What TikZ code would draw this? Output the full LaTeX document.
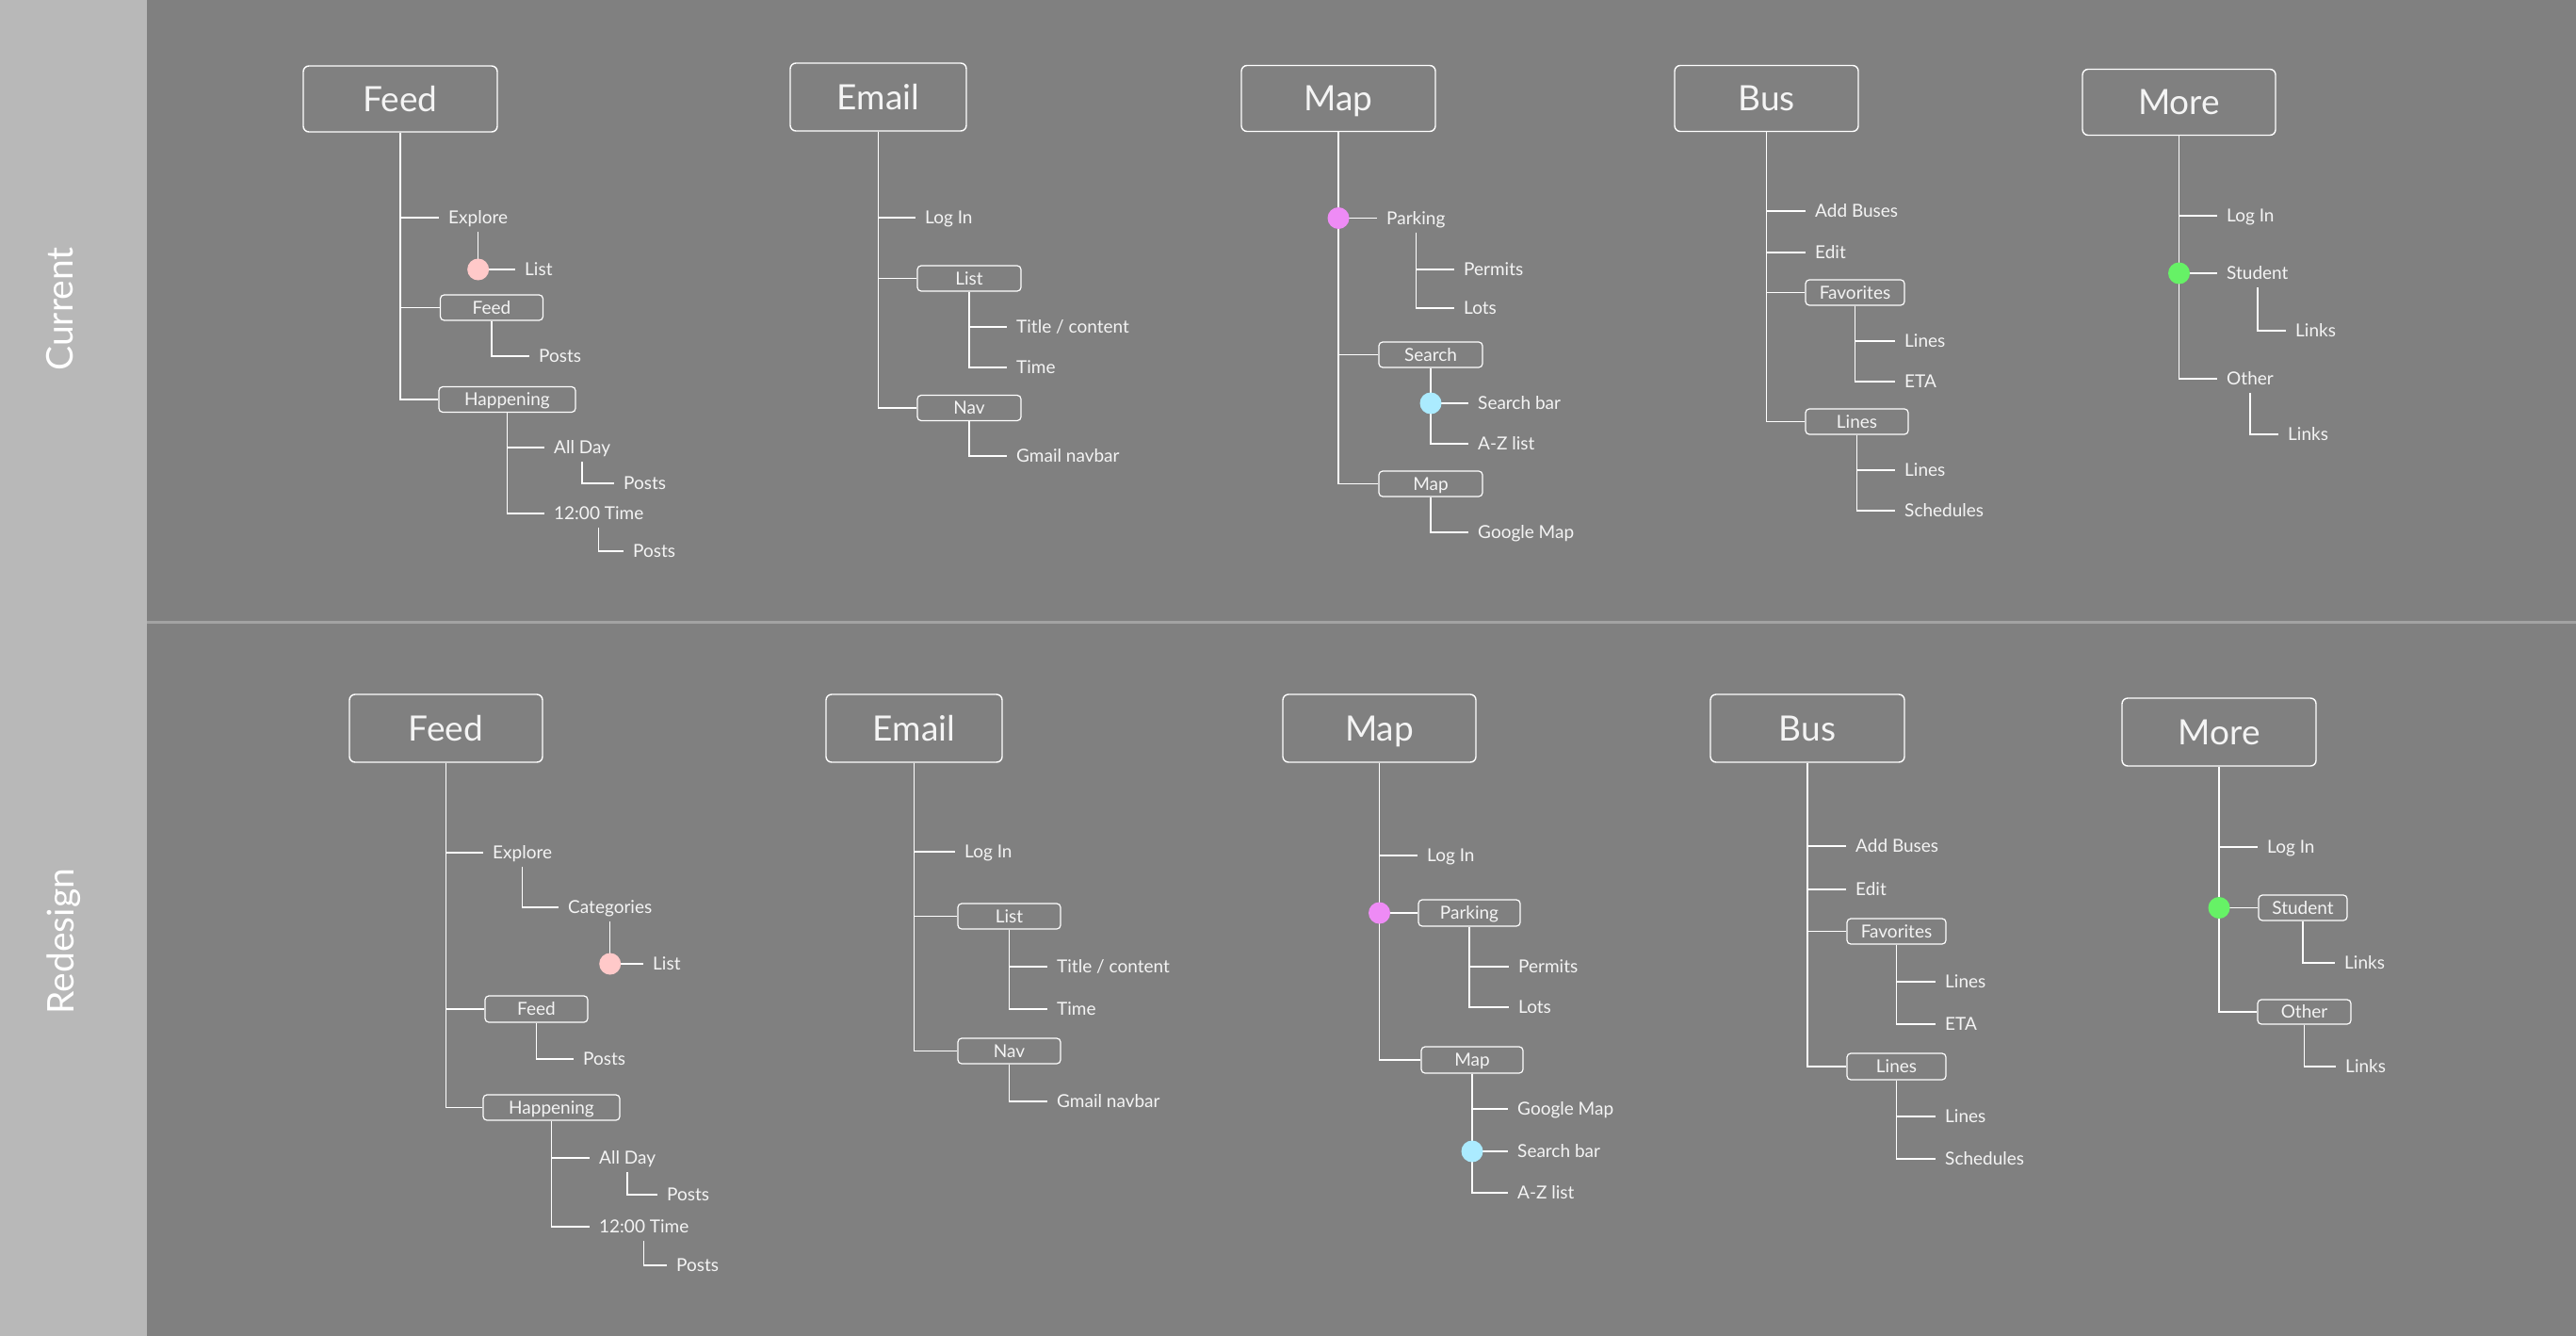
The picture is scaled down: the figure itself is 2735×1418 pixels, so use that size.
\documentclass[tikz,border=0pt]{standalone}
\usepackage{fontspec}
\setmainfont{Lato}
\definecolor{mainc}{HTML}{808080}
\definecolor{bandc}{HTML}{B8B8B8}
\definecolor{sepc}{HTML}{A3A3A3}
\definecolor{txtc}{HTML}{F4F4F4}
\definecolor{pinkc}{HTML}{FFC9C9}
\definecolor{magc}{HTML}{EE8BF5}
\definecolor{bluec}{HTML}{ABEBFF}
\definecolor{greenc}{HTML}{66F266}
\pgfdeclarelayer{bg}
\pgfdeclarelayer{wires}
\pgfsetlayers{bg,wires,main}
\begin{document}
\begin{tikzpicture}[x=1pt,y=-1pt,
  lbl/.style={font=\fontsize{19}{22}\selectfont, text=txtc, text height=13.6pt, text depth=0pt, inner xsep=10pt, inner ysep=8pt, anchor=west},
  sbox/.style={draw=white, line width=1.2pt, rounded corners=4pt, minimum height=27pt, inner sep=0pt, font=\fontsize{19}{22}\selectfont, text=txtc, text height=13.6pt, text depth=0pt},
  bbox/.style={draw=white, line width=1.4pt, rounded corners=6pt, minimum height=70pt, inner sep=0pt, font=\fontsize{37}{40}\selectfont, text=txtc, text height=26.5pt, text depth=0pt},
  dot/.style={circle, inner sep=0pt, minimum size=23pt},
  conn/.style={draw=white, line width=1.4pt},
  side/.style={font=\fontsize{39}{44}\selectfont, text=white, rotate=90}]
\useasboundingbox (0,0) rectangle (2735,1418);
\begin{pgfonlayer}{bg}
  \fill[bandc] (0,0) rectangle (156,1418);
  \fill[mainc] (156,0) rectangle (2735,1418);
  \draw[sepc, line width=3pt] (156,660) -- (2735,660);
\end{pgfonlayer}

\node[side] (cur) at (64,328) {Current};
\node[side] (red) at (68,999) {Redesign};

% ===== TOP: Feed =====
\node[bbox, minimum width=206pt] (T1) at (425,105) {Feed};
\node[lbl] (explore1) at (466,231) {Explore};
\node[lbl] (list1) at (547,286) {List};
\node[sbox, minimum width=109pt] (feedsub1) at (522,326.5) {Feed};
\node[lbl] (posts1a) at (562,378) {Posts};
\node[sbox, minimum width=145pt] (happ1) at (538.5,424) {Happening};
\node[lbl] (allday1) at (578,475) {All Day};
\node[lbl] (posts1b) at (652,513) {Posts};
\node[lbl] (time1) at (578,545) {12:00 Time};
\node[lbl] (posts1c) at (662,585) {Posts};
\node[dot, fill=pinkc] (pd1) at (explore1.south |- list1.west) {};

% ===== TOP: Email =====
\node[bbox, minimum width=187pt, minimum height=72pt] (T2) at (932.5,103) {Email};
\node[lbl] (login2) at (972,231) {Log In};
\node[sbox, minimum width=110pt] (list2) at (1029,295.5) {List};
\node[lbl] (title2) at (1069,347) {Title / content};
\node[lbl] (time2) at (1069,390) {Time};
\node[sbox, minimum width=110pt] (nav2) at (1029,433) {Nav};
\node[lbl] (gmail2) at (1069,484) {Gmail navbar};

% ===== TOP: Map =====
\node[bbox, minimum width=206pt] (T3) at (1421,104.5) {Map};
\node[lbl] (parking3) at (1462,231.5) {Parking};
\node[lbl] (permits3) at (1544,286) {Permits};
\node[lbl] (lots3) at (1544,327) {Lots};
\node[sbox, minimum width=110pt] (search3) at (1519,376.5) {Search};
\node[lbl] (searchbar3) at (1559,428) {Search bar};
\node[lbl] (az3) at (1559,471) {A-Z list};
\node[sbox, minimum width=110pt] (map3) at (1519,513.5) {Map};
\node[lbl] (gmap3) at (1559,565) {Google Map};
\node[dot, fill=magc] (md3) at (T3.south |- parking3.west) {};
\node[dot, fill=bluec] (bd3) at (search3.south |- searchbar3.west) {};

% ===== TOP: Bus =====
\node[bbox, minimum width=195pt] (T4) at (1875.5,104.5) {Bus};
\node[lbl] (addbus4) at (1917,224) {Add Buses};
\node[lbl] (edit4) at (1917,268) {Edit};
\node[sbox, minimum width=105pt] (fav4) at (1969.5,310.5) {Favorites};
\node[lbl] (lines4a) at (2012,362) {Lines};
\node[lbl] (eta4) at (2012,405) {ETA};
\node[sbox, minimum width=109pt] (lines4) at (1971.5,447.5) {Lines};
\node[lbl] (lines4b) at (2012,499) {Lines};
\node[lbl] (sched4) at (2012,542) {Schedules};

% ===== TOP: More =====
\node[bbox, minimum width=205pt] (T5) at (2313.5,108.5) {More};
\node[lbl] (login5) at (2354,229) {Log In};
\node[lbl] (student5) at (2354,290) {Student};
\node[lbl] (links5a) at (2427,351) {Links};
\node[lbl] (other5) at (2354,402) {Other};
\node[lbl] (links5b) at (2419,461) {Links};
\node[dot, fill=greenc] (gd5) at (T5.south |- student5.west) {};

% ===== BOTTOM: Feed =====
\node[bbox, minimum width=205pt, minimum height=72pt] (B1) at (473.5,773) {Feed};
\node[lbl] (explore6) at (513,905) {Explore};
\node[lbl] (categories6) at (593,963) {Categories};
\node[lbl] (list6) at (683,1023) {List};
\node[sbox, minimum width=109pt, minimum height=28pt] (feedsub6) at (569.5,1071) {Feed};
\node[lbl] (posts6a) at (609,1124) {Posts};
\node[sbox, minimum width=145pt] (happ6) at (585.5,1175.5) {Happening};
\node[lbl] (allday6) at (626,1229) {All Day};
\node[lbl] (posts6b) at (698,1268) {Posts};
\node[lbl] (time6) at (626,1302) {12:00 Time};
\node[lbl] (posts6c) at (708,1343) {Posts};
\node[dot, fill=pinkc] (pd6) at (categories6.south |- list6.west) {};

% ===== BOTTOM: Email =====
\node[bbox, minimum width=187pt, minimum height=72pt] (B2) at (970.5,773) {Email};
\node[lbl] (login7) at (1014,904) {Log In};
\node[sbox, minimum width=109pt] (list7) at (1071.5,972.5) {List};
\node[lbl] (title7) at (1112,1026) {Title / content};
\node[lbl] (time7) at (1112,1071) {Time};
\node[sbox, minimum width=109pt] (nav7) at (1071.5,1115.5) {Nav};
\node[lbl] (gmail7) at (1112,1169) {Gmail navbar};

% ===== BOTTOM: Map =====
\node[bbox, minimum width=205pt, minimum height=72pt] (B3) at (1464.5,773) {Map};
\node[lbl] (login8) at (1505,908) {Log In};
\node[sbox, minimum width=108pt, minimum height=28pt] (parking8) at (1560,969) {Parking};
\node[lbl] (permits8) at (1602,1026) {Permits};
\node[lbl] (lots8) at (1602,1069) {Lots};
\node[sbox, minimum width=108pt, minimum height=28pt] (map8) at (1563,1125) {Map};
\node[lbl] (gmap8) at (1601,1177) {Google Map};
\node[lbl] (searchbar8) at (1601,1222) {Search bar};
\node[lbl] (az8) at (1601,1266) {A-Z list};
\node[dot, fill=magc] (md8) at (B3.south |- parking8.west) {};
\node[dot, fill=bluec] (bd8) at (map8.south |- searchbar8.west) {};

% ===== BOTTOM: Bus =====
\node[bbox, minimum width=206pt, minimum height=72pt] (B4) at (1919,773) {Bus};
\node[lbl] (addbus9) at (1960,898) {Add Buses};
\node[lbl] (edit9) at (1960,944) {Edit};
\node[sbox, minimum width=105pt] (fav9) at (2013.5,988.5) {Favorites};
\node[lbl] (lines9a) at (2055,1042) {Lines};
\node[lbl] (eta9) at (2055,1087) {ETA};
\node[sbox, minimum width=105pt, minimum height=28pt] (lines9) at (2013.5,1132) {Lines};
\node[lbl] (lines9b) at (2055,1185) {Lines};
\node[lbl] (sched9) at (2055,1230) {Schedules};

% ===== BOTTOM: More =====
\node[bbox, minimum width=206pt, minimum height=72pt] (B5) at (2356,777) {More};
\node[lbl] (login10) at (2397,899) {Log In};
\node[sbox, minimum width=94pt] (student10) at (2445,963.5) {Student};
\node[lbl] (links10a) at (2479,1022) {Links};
\node[sbox, minimum width=99pt, minimum height=26pt] (other10) at (2446.5,1074) {Other};
\node[lbl] (links10b) at (2480,1132) {Links};
\node[dot, fill=greenc] (gd10) at (B5.south |- student10.west) {};

\begin{pgfonlayer}{wires}
  % top feed
  \draw[conn] (T1.south) |- (explore1.west);
  \draw[conn] (T1.south) |- (feedsub1.west);
  \draw[conn] (T1.south) |- (happ1.west);
  \draw[conn] (explore1.south) |- (list1.west);
  \draw[conn] (feedsub1.south) |- (posts1a.west);
  \draw[conn] (happ1.south) |- (allday1.west);
  \draw[conn] (happ1.south) |- (time1.west);
  \draw[conn] (allday1.south) |- (posts1b.west);
  \draw[conn] (time1.south) |- (posts1c.west);
  % top email
  \draw[conn] (T2.south) |- (login2.west);
  \draw[conn] (T2.south) |- (list2.west);
  \draw[conn] (T2.south) |- (nav2.west);
  \draw[conn] (list2.south) |- (title2.west);
  \draw[conn] (list2.south) |- (time2.west);
  \draw[conn] (nav2.south) |- (gmail2.west);
  % top map
  \draw[conn] (T3.south) |- (parking3.west);
  \draw[conn] (T3.south) |- (search3.west);
  \draw[conn] (T3.south) |- (map3.west);
  \draw[conn] (parking3.south) |- (permits3.west);
  \draw[conn] (parking3.south) |- (lots3.west);
  \draw[conn] (search3.south) |- (searchbar3.west);
  \draw[conn] (search3.south) |- (az3.west);
  \draw[conn] (map3.south) |- (gmap3.west);
  % top bus
  \draw[conn] (T4.south) |- (addbus4.west);
  \draw[conn] (T4.south) |- (edit4.west);
  \draw[conn] (T4.south) |- (fav4.west);
  \draw[conn] (T4.south) |- (lines4.west);
  \draw[conn] (fav4.south) |- (lines4a.west);
  \draw[conn] (fav4.south) |- (eta4.west);
  \draw[conn] (lines4.south) |- (lines4b.west);
  \draw[conn] (lines4.south) |- (sched4.west);
  % top more
  \draw[conn] (T5.south) |- (login5.west);
  \draw[conn] (T5.south) |- (student5.west);
  \draw[conn] (T5.south) |- (other5.west);
  \draw[conn] (student5.south) |- (links5a.west);
  \draw[conn] (other5.south) |- (links5b.west);
  % bottom feed
  \draw[conn] (B1.south) |- (explore6.west);
  \draw[conn] (B1.south) |- (feedsub6.west);
  \draw[conn] (B1.south) |- (happ6.west);
  \draw[conn] (explore6.south) |- (categories6.west);
  \draw[conn] (categories6.south) |- (list6.west);
  \draw[conn] (feedsub6.south) |- (posts6a.west);
  \draw[conn] (happ6.south) |- (allday6.west);
  \draw[conn] (happ6.south) |- (time6.west);
  \draw[conn] (allday6.south) |- (posts6b.west);
  \draw[conn] (time6.south) |- (posts6c.west);
  % bottom email
  \draw[conn] (B2.south) |- (login7.west);
  \draw[conn] (B2.south) |- (list7.west);
  \draw[conn] (B2.south) |- (nav7.west);
  \draw[conn] (list7.south) |- (title7.west);
  \draw[conn] (list7.south) |- (time7.west);
  \draw[conn] (nav7.south) |- (gmail7.west);
  % bottom map
  \draw[conn] (B3.south) |- (login8.west);
  \draw[conn] (B3.south) |- (parking8.west);
  \draw[conn] (B3.south) |- (map8.west);
  \draw[conn] (parking8.south) |- (permits8.west);
  \draw[conn] (parking8.south) |- (lots8.west);
  \draw[conn] (map8.south) |- (gmap8.west);
  \draw[conn] (map8.south) |- (searchbar8.west);
  \draw[conn] (map8.south) |- (az8.west);
  % bottom bus
  \draw[conn] (B4.south) |- (addbus9.west);
  \draw[conn] (B4.south) |- (edit9.west);
  \draw[conn] (B4.south) |- (fav9.west);
  \draw[conn] (B4.south) |- (lines9.west);
  \draw[conn] (fav9.south) |- (lines9a.west);
  \draw[conn] (fav9.south) |- (eta9.west);
  \draw[conn] (lines9.south) |- (lines9b.west);
  \draw[conn] (lines9.south) |- (sched9.west);
  % bottom more
  \draw[conn] (B5.south) |- (login10.west);
  \draw[conn] (B5.south) |- (student10.west);
  \draw[conn] (B5.south) |- (other10.west);
  \draw[conn] (student10.south) |- (links10a.west);
  \draw[conn] (other10.south) |- (links10b.west);
\end{pgfonlayer}
\end{tikzpicture}
\end{document}
